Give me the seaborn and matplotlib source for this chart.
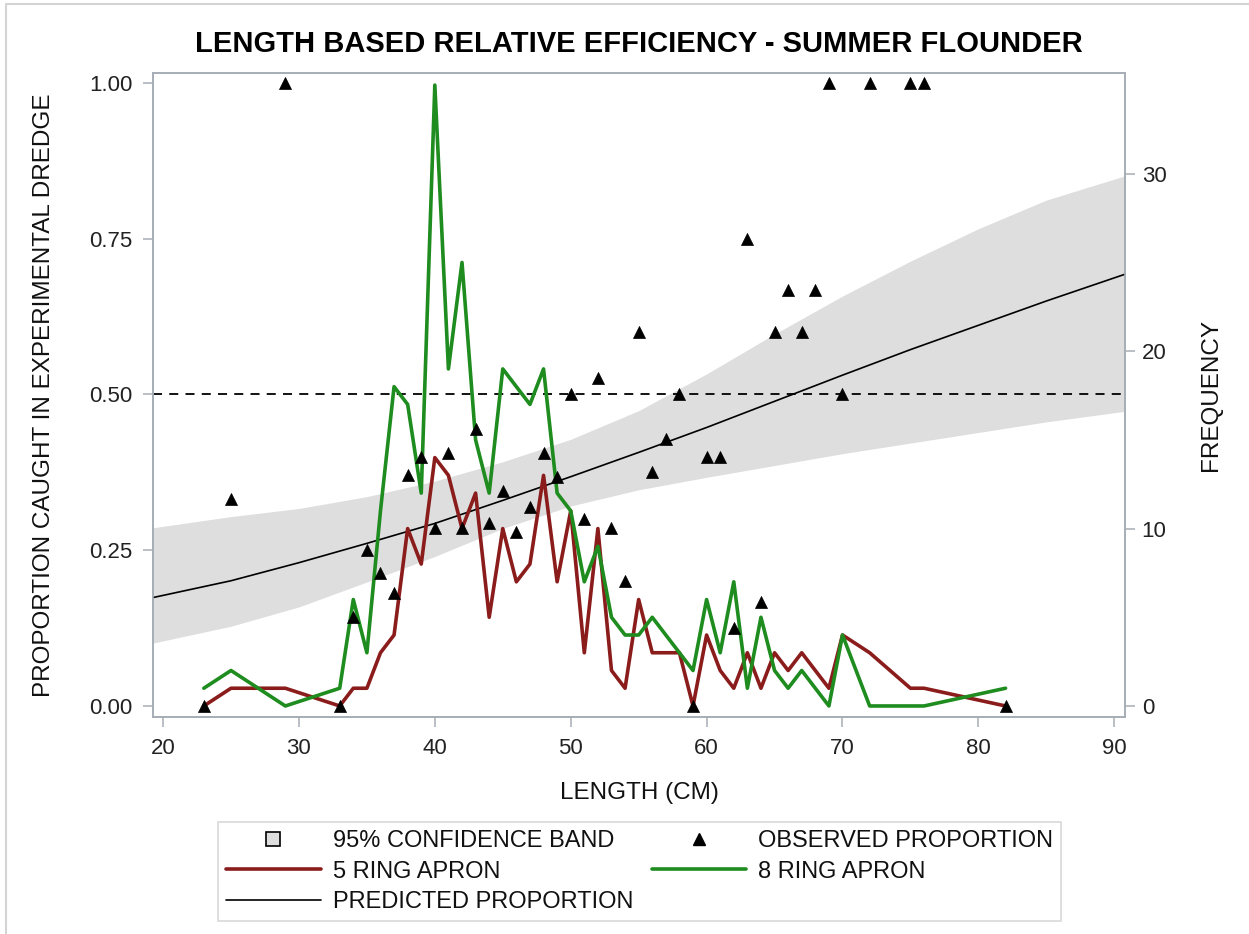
import numpy as np
import pandas as pd
import matplotlib
matplotlib.use("Agg")
import matplotlib.pyplot as plt
from matplotlib.lines import Line2D
import seaborn as sns

# ---------------- data ----------------
lengths = [23, 25, 29, 33, 34, 35, 36, 37, 38, 39, 40, 41, 42, 43, 44, 45, 46, 47,
           48, 49, 50, 51, 52, 53, 54, 55, 56, 57, 58, 59, 60, 61, 62, 63, 64, 65,
           66, 67, 68, 69, 70, 72, 75, 76, 82]
ring5_freq = [0, 1, 1, 0, 1, 1, 3, 4, 10, 8, 14, 13, 10, 12, 5, 10, 7, 8,
              13, 7, 11, 3, 10, 2, 1, 6, 3, 3, 3, 0, 4, 2, 1, 3, 1, 3,
              2, 3, 2, 1, 4, 3, 1, 1, 0]
ring8_freq = [1, 2, 0, 1, 6, 3, 11, 18, 17, 12, 35, 19, 25, 15, 12, 19, 18, 17,
              19, 12, 11, 7, 9, 5, 4, 4, 5, 4, 3, 2, 6, 3, 7, 1, 5, 2,
              1, 2, 1, 0, 4, 0, 0, 0, 1]
observed = [0.0, 0.333, 1.0, 0.0, 0.143, 0.25, 0.214, 0.182, 0.370, 0.400, 0.286,
            0.406, 0.286, 0.444, 0.294, 0.345, 0.280, 0.320, 0.406, 0.368, 0.500,
            0.300, 0.526, 0.286, 0.200, 0.600, 0.375, 0.429, 0.500, 0.0, 0.400,
            0.400, 0.125, 0.750, 0.167, 0.600, 0.667, 0.600, 0.667, 1.0, 0.500,
            1.0, 1.0, 1.0, 0.0]

pred_len = [19.26, 25, 30, 35, 40, 45, 50, 55, 60, 65, 70, 75, 80, 85, 90.79]
pred = [0.174, 0.201, 0.230, 0.261, 0.293, 0.330, 0.368, 0.407, 0.447, 0.489,
        0.531, 0.572, 0.611, 0.650, 0.693]
upper = [0.286, 0.304, 0.317, 0.336, 0.361, 0.392, 0.428, 0.474, 0.533, 0.597,
         0.658, 0.714, 0.766, 0.812, 0.851]
lower = [0.101, 0.128, 0.159, 0.199, 0.240, 0.285, 0.321, 0.347, 0.367, 0.386,
         0.405, 0.422, 0.439, 0.456, 0.473]

x_ticks = [20, 30, 40, 50, 60, 70, 80, 90]
y_ticks = [0.0, 0.25, 0.5, 0.75, 1.0]
y_tick_labels = ["0.00", "0.25", "0.50", "0.75", "1.00"]
f_ticks = [0, 10, 20, 30]

title = "LENGTH BASED RELATIVE EFFICIENCY - SUMMER FLOUNDER"
xlabel = "LENGTH (CM)"
ylabel = "PROPORTION CAUGHT IN EXPERIMENTAL DREDGE"
y2label = "FREQUENCY"
legend_labels = ["95% CONFIDENCE BAND", "5 RING APRON", "PREDICTED PROPORTION",
                 "OBSERVED PROPORTION", "8 RING APRON"]

# ---------------- style ----------------
sns.set_theme(style="white")
plt.rcParams["font.family"] = ["Liberation Sans", "DejaVu Sans"]

RED = "#8b1c1c"
GREEN = "#1e8c1e"
BAND = "#dedede"
SPINE = "#a6adb4"

df = pd.DataFrame({"length": lengths, "r5": ring5_freq, "r8": ring8_freq, "obs": observed})
dfp = pd.DataFrame({"length": pred_len, "pred": pred, "upper": upper, "lower": lower})

W, H = 1249, 934
fig = plt.figure(figsize=(W / 100, H / 100), dpi=100)
L, R, T, B = 153, 1125, 73, 717
ax = fig.add_axes([L / W, 1 - B / H, (R - L) / W, (B - T) / H])

xlim = (19.26, 90.79)
ylim = (-0.0177, 1.016)
fscale = 35.12

# band, predicted, reference line on main axes
ax.fill_between(dfp["length"], dfp["lower"], dfp["upper"], color=BAND, lw=0, zorder=1)
sns.lineplot(data=dfp, x="length", y="pred", ax=ax, color="black", lw=1.2,
             estimator=None, sort=False, zorder=3)
ax.axhline(0.5, color="black", lw=1.3, ls=(0, (5, 4)), zorder=2)

# frequency lines on right axis
ax2 = ax.twinx()
sns.lineplot(data=df, x="length", y="r5", ax=ax2, color=RED, lw=2.6,
             estimator=None, sort=False)
sns.lineplot(data=df, x="length", y="r8", ax=ax2, color=GREEN, lw=2.6,
             estimator=None, sort=False)

# observed points on top
ax3 = ax.twinx()
sns.scatterplot(data=df, x="length", y="obs", ax=ax3, marker="^", s=75,
                color="black", edgecolor="black", linewidth=0.5, zorder=5)

for a in (ax, ax2, ax3):
    a.set_xlim(*xlim)
ax.set_ylim(*ylim)
ax3.set_ylim(*ylim)
ax2.set_ylim(ylim[0] * fscale, ylim[1] * fscale)
ax3.set_axis_off()

ax.set_xticks(x_ticks)
ax.set_yticks(y_ticks)
ax.set_yticklabels(y_tick_labels)
ax2.set_yticks(f_ticks)

for a in (ax, ax2):
    for s in a.spines.values():
        s.set_color(SPINE)
        s.set_linewidth(1.2)
ax.tick_params(axis="both", which="major", direction="out", length=7, width=1.1,
               color=SPINE, labelsize=16, labelcolor="#222222", pad=8,
               left=True, bottom=True)
ax2.tick_params(axis="y", direction="out", length=7, width=1.1, color=SPINE,
                labelsize=16, labelcolor="#222222", pad=5, right=True)

ax.set_xlabel(xlabel, fontsize=17.5, color="#111111", labelpad=17)
ax.set_ylabel(ylabel, fontsize=17.5, color="#111111", labelpad=24)
ax2.set_ylabel(y2label, fontsize=17.5, color="#111111", labelpad=24)
ax.set_title(title, fontsize=21, fontweight="bold", color="black", pad=15)

# legend
handles = [
    Line2D([], [], ls="none", marker="s", ms=10, mfc=BAND, mec="black", mew=1.2),
    Line2D([], [], color=RED, lw=2.6),
    Line2D([], [], color="black", lw=1.2),
    Line2D([], [], ls="none", marker="^", ms=8, mfc="black", mec="black"),
    Line2D([], [], color=GREEN, lw=2.6),
]
leg = fig.legend(handles, legend_labels, ncol=2, loc="upper left",
                 bbox_to_anchor=(218 / W, 1 - 822 / H), bbox_transform=fig.transFigure,
                 fontsize=17, frameon=True, fancybox=False, borderaxespad=0,
                 handlelength=4.0, handletextpad=0.5, columnspacing=0.8,
                 labelspacing=0.35, borderpad=0.35)
leg.get_frame().set_edgecolor("#cfcfcf")
leg.get_frame().set_linewidth(1.2)
for t in leg.get_texts():
    t.set_color("#111111")

# thin outer frame (left and top edges visible in the reference)
fig.add_artist(Line2D([6 / W, 6 / W], [0, 1 - 4 / H], transform=fig.transFigure,
                      color="#d4d4d4", lw=1.5))
fig.add_artist(Line2D([6 / W, 1], [1 - 4 / H, 1 - 4 / H], transform=fig.transFigure,
                      color="#d4d4d4", lw=1.5))

fig.savefig("out.png", dpi=100, facecolor="white")
